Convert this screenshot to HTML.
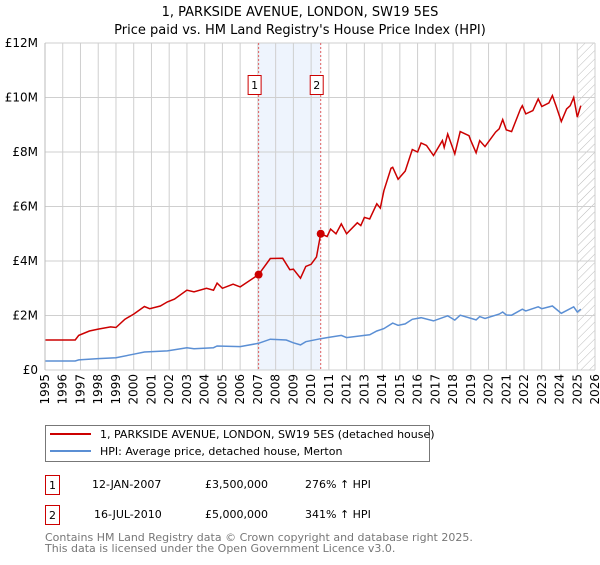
<!DOCTYPE html>
<html><head><meta charset="utf-8"><style>
body{margin:0;background:#fff;font-family:"Liberation Sans","DejaVu Sans",sans-serif;}
svg text{font-family:"DejaVu Sans","Liberation Sans",sans-serif;}
</style></head><body>
<svg id="chart" width="600" height="560" viewBox="0 0 600 560" xmlns="http://www.w3.org/2000/svg">
<defs><pattern id="hatch" width="6" height="6" patternUnits="userSpaceOnUse" patternTransform="rotate(45)"><line x1="0" y1="0" x2="0" y2="6" stroke="#bbb" stroke-width="1"/></pattern></defs>
<text x="300" y="16" text-anchor="middle" font-size="13" fill="#000">1, PARKSIDE AVENUE, LONDON, SW19 5ES</text>
<text x="300" y="34" text-anchor="middle" font-size="13" fill="#000">Price paid vs. HM Land Registry's House Price Index (HPI)</text>
<g id="plot"></g>
<g>
<rect x="45.5" y="425.5" width="384" height="36" fill="#fff" stroke="#777"/>
<line x1="50" y1="434" x2="91" y2="434" stroke="#cc0000" stroke-width="2"/>
<text x="100" y="438" font-size="11">1, PARKSIDE AVENUE, LONDON, SW19 5ES (detached house)</text>
<line x1="50" y1="451" x2="91" y2="451" stroke="#5b8fd4" stroke-width="2"/>
<text x="100" y="455" font-size="11">HPI: Average price, detached house, Merton</text>
</g>
<g font-size="11">
<rect x="45.5" y="475.5" width="14" height="19" fill="#fff" stroke="#cc0000"/>
<text x="52.5" y="489" text-anchor="middle">1</text>
<text x="92" y="488">12-JAN-2007</text><text x="205" y="488">£3,500,000</text><text x="305" y="488">276% ↑ HPI</text>
</g>
<g font-size="11">
<rect x="45.5" y="505.5" width="14" height="19" fill="#fff" stroke="#cc0000"/>
<text x="52.5" y="519" text-anchor="middle">2</text>
<text x="94" y="518">16-JUL-2010</text><text x="205" y="518">£5,000,000</text><text x="305" y="518">341% ↑ HPI</text>
</g>
<text x="45" y="541" font-size="11" fill="#777">Contains HM Land Registry data © Crown copyright and database right 2025.</text>
<text x="45" y="552" font-size="11" fill="#777">This data is licensed under the Open Government Licence v3.0.</text>
</svg>
<script>
const redYears=[1995,1996.7,1996.9,1997.5,1998,1998.7,1999,1999.5,2000,2000.6,2000.9,2001.5,2001.9,2002.3,2003,2003.4,2004.1,2004.5,2004.7,2005,2005.6,2006,2007.04,2007.7,2008.4,2008.8,2009,2009.4,2009.7,2010,2010.3,2010.54,2010.9,2011.1,2011.4,2011.7,2012,2012.6,2012.8,2013,2013.3,2013.7,2013.9,2014.1,2014.5,2014.6,2014.9,2015.3,2015.7,2016,2016.2,2016.5,2016.9,2017.4,2017.5,2017.7,2018.1,2018.4,2018.9,2019,2019.3,2019.5,2019.8,2020.4,2020.6,2020.8,2021,2021.3,2021.8,2021.9,2022.1,2022.5,2022.8,2023,2023.4,2023.6,2023.8,2024.1,2024.4,2024.6,2024.8,2025,2025.2];
const redValues=[1.1,1.1,1.27,1.43,1.5,1.58,1.56,1.86,2.05,2.33,2.25,2.35,2.5,2.6,2.93,2.87,3.0,2.93,3.19,3.0,3.15,3.05,3.5,4.09,4.1,3.68,3.7,3.37,3.8,3.88,4.15,5.0,4.9,5.17,5.0,5.36,5.0,5.4,5.3,5.6,5.54,6.1,5.94,6.58,7.4,7.44,7.0,7.3,8.09,8.0,8.33,8.24,7.87,8.42,8.17,8.66,7.93,8.75,8.6,8.42,7.97,8.42,8.2,8.73,8.85,9.19,8.81,8.75,9.58,9.7,9.4,9.52,9.95,9.67,9.8,10.07,9.7,9.12,9.58,9.7,10.0,9.28,9.7];
const hpiYears=[1995,1996.7,1996.9,1998,1999,2000,2000.6,2001.9,2003,2003.4,2004.5,2004.7,2006,2007.04,2007.7,2008.6,2009,2009.4,2009.7,2010.54,2010.9,2011.7,2012,2013,2013.3,2013.7,2014.1,2014.6,2014.9,2015.3,2015.7,2016.2,2016.9,2017.7,2018.1,2018.4,2019.3,2019.5,2019.8,2020.6,2020.8,2021,2021.3,2021.9,2022.1,2022.8,2023,2023.6,2024.1,2024.8,2025,2025.2];
const hpiValues=[0.33,0.33,0.37,0.42,0.45,0.58,0.66,0.7,0.82,0.78,0.82,0.88,0.86,0.98,1.13,1.1,1.0,0.92,1.04,1.15,1.19,1.27,1.19,1.27,1.29,1.43,1.52,1.72,1.64,1.69,1.86,1.92,1.8,1.99,1.83,2.01,1.84,1.96,1.89,2.05,2.13,2.02,2.01,2.23,2.17,2.32,2.25,2.35,2.08,2.32,2.13,2.23];
const saleYears=[2007.04,2010.54];
const saleValues=[3.5,5.0];
const saleLabels=["1","2"];
const yTicks=[0,2,4,6,8,10,12];
const yTickLabels=["£0","£2M","£4M","£6M","£8M","£10M","£12M"];
const xTicks=[1995,1996,1997,1998,1999,2000,2001,2002,2003,2004,2005,2006,2007,2008,2009,2010,2011,2012,2013,2014,2015,2016,2017,2018,2019,2020,2021,2022,2023,2024,2025,2026];

const L=45,R=595,T=43,B=370;
const x=y=>L+(y-1995)/(2026-1995)*(R-L);
const yv=v=>B-v/12*(B-T);
const NS="http://www.w3.org/2000/svg";
const g=document.getElementById('plot');
function mk(tag,attrs){const e=document.createElementNS(NS,tag);for(const k in attrs)e.setAttribute(k,attrs[k]);g.appendChild(e);return e;}
let e;
e=mk('rect',{x:x(saleYears[0]),y:T,width:x(saleYears[1])-x(saleYears[0]),height:B-T,fill:'#eef4fd'});


e=mk('rect',{x:x(2025.04),y:T,width:R-x(2025.04),height:B-T,fill:'url(#hatch)'});


xTicks.forEach(t=>{
 e=mk('line',{x1:x(t),x2:x(t),y1:T,y2:B,stroke:'#cfcfcf','stroke-width':1});
 
 
 e=mk('text',{x:0,y:0,'font-size':12,'text-anchor':'end',transform:`translate(${x(t)+4},374) rotate(-90)`});
 e.textContent=t;
 
 
});
yTicks.forEach((t,i)=>{
 e=mk('line',{x1:L,x2:R,y1:yv(t),y2:yv(t),stroke:'#cfcfcf','stroke-width':1});
 
 
 e=mk('text',{x:38,y:yv(t)+4,'font-size':12,'text-anchor':'end'});
 e.textContent=yTickLabels[i];
 
 
});
saleYears.forEach((s,i)=>{
 e=mk('line',{x1:x(s),x2:x(s),y1:T,y2:B,stroke:'#e06060','stroke-width':1,'stroke-dasharray':'2,2'});
 
 
 e=mk('rect',{x:x(s)-10.5,y:75.5,width:13,height:19,fill:'#fff',stroke:'#cc0000'});
 
 
 e=mk('text',{x:x(s)-4,y:89,'font-size':11,'text-anchor':'middle'});
 e.textContent=saleLabels[i];
 
 
});
e=mk('path',{d:hpiYears.map((t,i)=>(i?'L':'M')+x(t).toFixed(1)+','+yv(hpiValues[i]).toFixed(1)).join(''),fill:'none',stroke:'#5b8fd4','stroke-width':1.5});


e=mk('path',{d:redYears.map((t,i)=>(i?'L':'M')+x(t).toFixed(1)+','+yv(redValues[i]).toFixed(1)).join(''),fill:'none',stroke:'#cc0000','stroke-width':1.5});


saleYears.forEach((s,i)=>{
 e=mk('circle',{cx:x(s),cy:yv(saleValues[i]),r:4,fill:'#cc0000'});
 
 
});
e=mk('line',{x1:L,x2:L,y1:T,y2:B,stroke:'#bbb'});


</script>
</body></html>
